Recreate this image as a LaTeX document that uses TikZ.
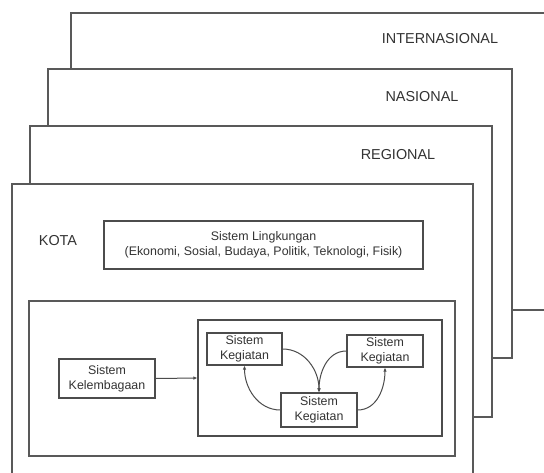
\documentclass[tikz,border=0pt]{standalone}
\usepackage{fontspec}
\setmainfont{Liberation Sans}
\usetikzlibrary{arrows.meta}

\begin{document}
\begin{tikzpicture}[x=1pt,y=-1pt,
  frame/.style={draw=black!65,line width=1.5pt,fill=white},
  lvl/.style={font=\fontsize{14.4}{17}\selectfont,text=black!80},
  box/.style={draw=black!70,line width=1.2pt,fill=white,align=center,inner sep=0pt,
    font=\fontsize{12.4}{15}\selectfont,text=black!80},
  link/.style={draw=black!70,line width=1pt,-{Latex[length=4pt,width=3.5pt]}}]
\clip (0,0) rectangle (544,472);
% frames from back to front
\draw [frame] (71,13) rectangle (580,310); \node[lvl] (inter) at (440,39) {INTERNASIONAL};
\draw [frame] (48,69) rectangle (512,358); \node[lvl] (nas) at (422,97) {NASIONAL};
\draw [frame] (30,126) rectangle (492,417); \node[lvl] (reg) at (398,155) {REGIONAL};
\draw [frame] (12,184) rectangle (473,500); \node[lvl] (kota) at (58,241) {KOTA};
\node[box,minimum width=319,minimum height=48] (ling) at (263.5,245) {Sistem Lingkungan\\(Ekonomi, Sosial, Budaya, Politik, Teknologi, Fisik)};
\draw [frame,line width=1.3pt] (29,301) rectangle (455,456);
\node[box,minimum width=244,minimum height=116] (sys) at (320,378) {};
\node[box,minimum width=96,minimum height=39] (lemb) at (107,378.5) {Sistem\\Kelembagaan};
\node[box,minimum width=75,minimum height=32] (kgl) at (244.5,349) {Sistem\\Kegiatan};
\node[box,minimum width=76,minimum height=32] (kgr) at (385,351) {Sistem\\Kegiatan};
\node[box,minimum width=76,minimum height=34] (kgb) at (319,410) {Sistem\\Kegiatan};
\draw [link] (lemb.east) -- (sys.west);
\draw [link] (kgl.east) to[out=0,in=90] (kgb.north);
\draw [link] (kgr.west) to[out=180,in=90] (kgb.north);
\draw [link] (kgb.west) to[out=180,in=-90] (kgl.south);
\draw [link] (kgb.east) to[out=0,in=-90] (kgr.south);
\end{tikzpicture}
\end{document}
